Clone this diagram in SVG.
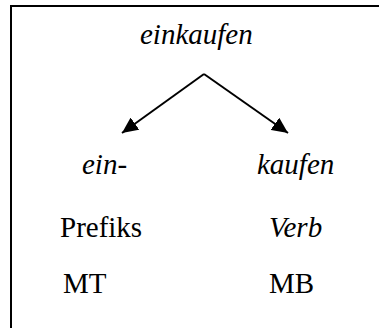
<svg xmlns="http://www.w3.org/2000/svg" width="379" height="328" viewBox="0 0 379 328">
  <style>
    .lbl { font-family: "Liberation Serif", "Times New Roman", serif; font-size: 29px; fill: #000; }
    .it { font-style: italic; }
    .edge { stroke: #000; stroke-width: 2; fill: none; }
  </style>
  <defs>
    <marker id="arrow" markerUnits="userSpaceOnUse" markerWidth="17" markerHeight="15" refX="16" refY="7.5" orient="auto">
      <path d="M0,0 L16,7.5 L0,15 Z" fill="#000"/>
    </marker>
  </defs>
  <rect width="379" height="328" fill="#fff"/>
  <!-- frame: top and left edges -->
  <path d="M11,328 L11,6 L379,6" stroke="#000" stroke-width="2" fill="none"/>

  <g id="root">
    <text class="lbl it" x="140" y="44">einkaufen</text>
  </g>
  <g id="prefix">
    <text class="lbl it" x="82" y="174">ein-</text>
    <text class="lbl" x="60" y="237">Prefiks</text>
    <text class="lbl" x="63" y="293">MT</text>
  </g>
  <g id="stem">
    <text class="lbl it" x="257" y="174">kaufen</text>
    <text class="lbl it" x="269" y="237">Verb</text>
    <text class="lbl" x="269" y="293">MB</text>
  </g>

  <g id="connectors">
    <line class="edge" x1="204" y1="74" x2="122" y2="133" marker-end="url(#arrow)"/>
    <line class="edge" x1="204" y1="74" x2="288" y2="133" marker-end="url(#arrow)"/>
  </g>
</svg>
